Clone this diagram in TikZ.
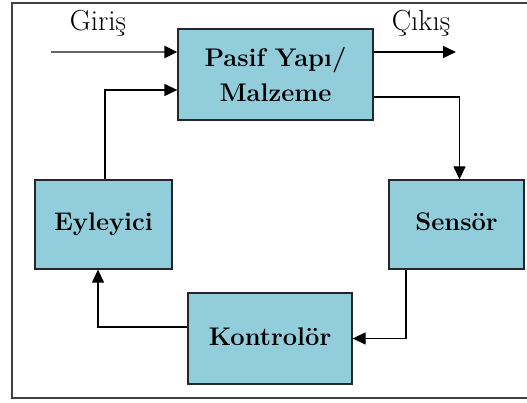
\documentclass[tikz,border=0pt]{standalone}
\usetikzlibrary{arrows.meta}
\definecolor{boxfill}{HTML}{92CDDC}
\definecolor{framegray}{HTML}{404040}
\tikzset{
  blockbox/.style={draw=black!85, line width=1.3pt, fill=boxfill, inner sep=0pt,
    font=\fontsize{25.5}{35}\selectfont\bfseries, align=center},
  oneline/.style={text height=18pt, text depth=5pt},
  conn/.style={draw=black, line width=1.3pt, -{Triangle[length=13pt,width=12pt]}},
  inconn/.style={draw=black!60, line width=2.5pt, -{Triangle[length=13pt,width=12pt,fill=black,color=black]}},
  lbl/.style={font=\fontsize{29}{32}\selectfont, inner sep=0pt}
}
\begin{document}
\begin{tikzpicture}[x=1pt,y=-1pt]
\useasboundingbox (0,0) rectangle (527,403);
\fill[white] (0,0) rectangle (527,403);
\draw[framegray, line width=1.5pt] (540,3) -- (12,3) -- (12,398) -- (540,398);

\node[blockbox, minimum width=195pt, minimum height=91pt] (pasif) at (275.5,74.5) {Pasif Yapı/\\Malzeme};
\node[blockbox, oneline, minimum width=137pt, minimum height=89pt] (eyl) at (103.5,224.5) {Eyleyici};
\node[blockbox, oneline, minimum width=135pt, minimum height=89pt] (sen) at (456.5,224.5) {Sensör};
\node[blockbox, oneline, minimum width=164pt, minimum height=91pt] (kon) at (270,338.5) {Kontrolör};

\node[lbl] (giris) at (98,23) {Giriş};
\node[lbl] (cikis) at (421,23) {Çıkış};

\coordinate (inp) at (51,52);
\coordinate (outp) at (456,52);

\draw[inconn] (inp) -- (inp -| pasif.west);
\draw[conn] (outp -| pasif.east) -- (outp);
\draw[conn] ([yshift=-22.5pt]pasif.east) -| ([xshift=3pt]sen.north);
\draw[conn] ([xshift=-50.5pt]sen.south) |- (kon.east);
\draw[conn] ([yshift=11.5pt]kon.west) -| ([xshift=-5.5pt]eyl.south);
\draw[conn] ([xshift=1.5pt]eyl.north) |- ([yshift=-15.5pt]pasif.west);
\end{tikzpicture}
\end{document}
